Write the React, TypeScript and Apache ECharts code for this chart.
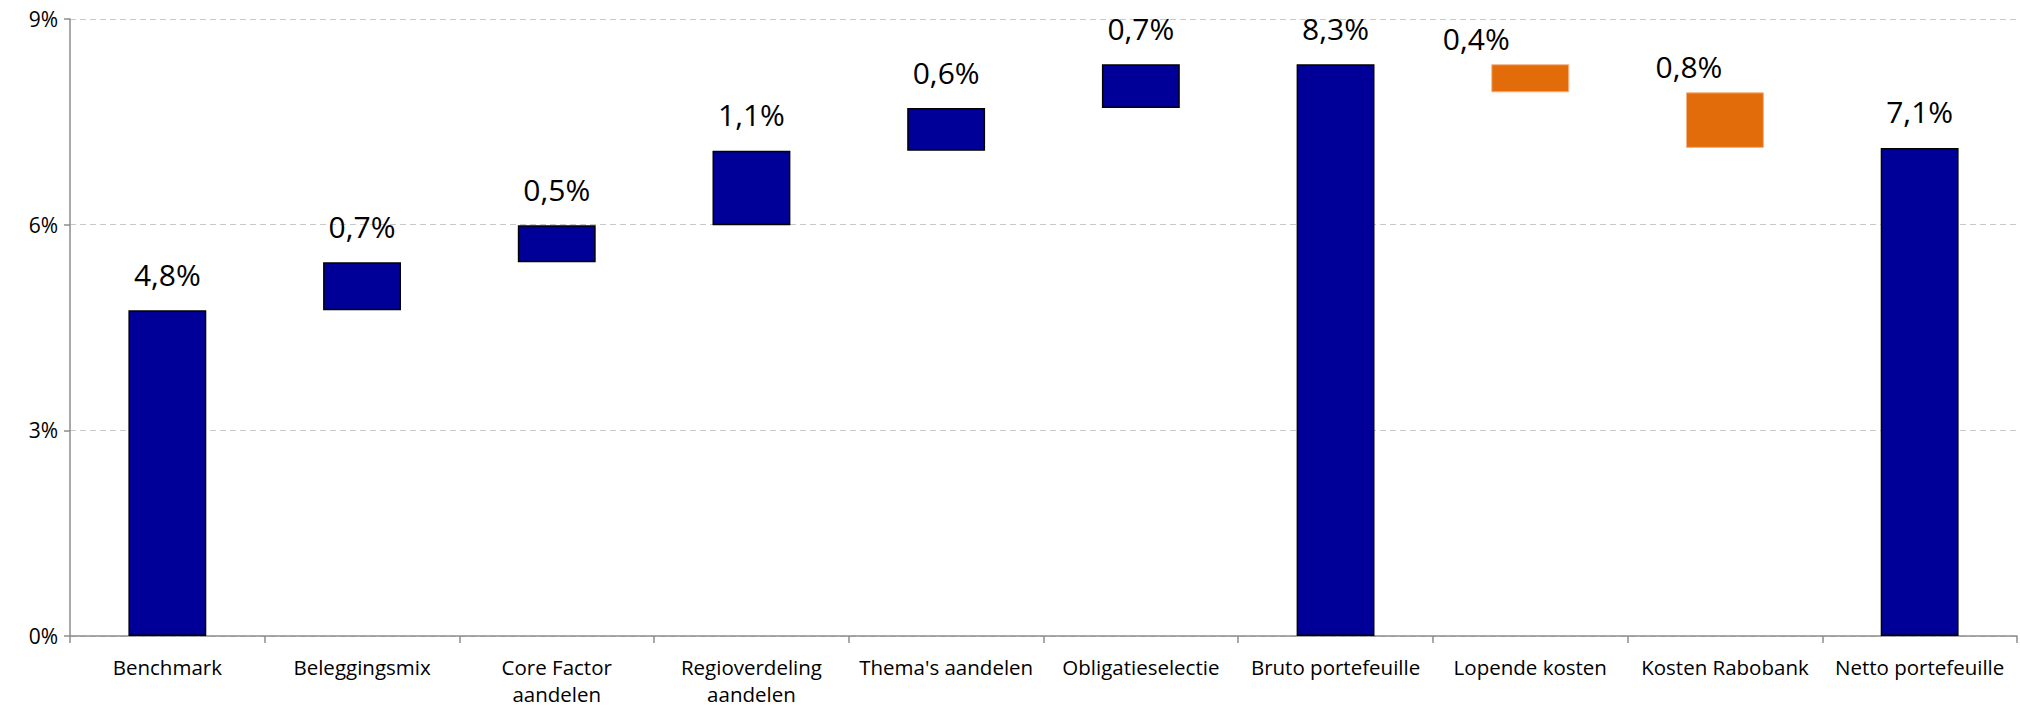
import React, { useEffect, useRef } from "react";
import * as echarts from "echarts";

const categories = [
  "Benchmark",
  "Beleggingsmix",
  "Core Factor\naandelen",
  "Regioverdeling\naandelen",
  "Thema's aandelen",
  "Obligatieselectie",
  "Bruto portefeuille",
  "Lopende kosten",
  "Kosten Rabobank",
  "Netto portefeuille",
];
// start and end level of each bar (in %)
const startValues = [0, 4.75, 5.45, 5.99, 7.08, 7.70, 0, 8.34, 7.93, 0];
const endValues = [4.75, 5.45, 5.99, 7.08, 7.70, 8.34, 8.34, 7.93, 7.12, 7.12];
const valueLabels = ["4,8%", "0,7%", "0,5%", "1,1%", "0,6%", "0,7%", "8,3%", "0,4%", "0,8%", "7,1%"];
const yTicks = [0, 3, 6, 9];

const BLUE = "#000099";
const ORANGE = "#E36C0A";
const FONT = "'Open Sans', sans-serif";

export default function App() {
  const ref = useRef<HTMLDivElement>(null);
  useEffect(() => {
    if (!ref.current) return;
    const chart = echarts.init(ref.current, undefined, { renderer: "svg" });
    const base = startValues.map((s, i) => Math.min(s, endValues[i]));
    const delta = startValues.map((s, i) => {
      const neg = endValues[i] < s;
      return {
        value: Math.abs(endValues[i] - s),
        itemStyle: neg
          ? { color: ORANGE, borderColor: "#F4B183", borderWidth: 1 }
          : { color: BLUE, borderColor: "#000000", borderWidth: 1.5 },
        label: neg ? { offset: [i === 7 ? -54 : -36, 10] } : {},
      };
    });
    chart.setOption({
      animation: false,
      grid: { left: 70, right: 3, top: 19, bottom: 72, containLabel: false },
      xAxis: {
        type: "category",
        data: categories,
        axisLine: { lineStyle: { color: "#8c8c8c", width: 1.5 } },
        axisTick: { show: true, length: 7, lineStyle: { color: "#8c8c8c", width: 1.5 } },
        axisLabel: {
          interval: 0,
          color: "#000",
          fontFamily: FONT,
          fontSize: 20.5,
          lineHeight: 27,
          margin: 17,
        },
      },
      yAxis: {
        type: "value",
        min: yTicks[0],
        max: yTicks[yTicks.length - 1],
        interval: 3,
        axisLine: { show: true, lineStyle: { color: "#8c8c8c", width: 1.5 } },
        axisTick: { show: true, length: 6, lineStyle: { color: "#8c8c8c", width: 1.5 } },
        axisLabel: {
          color: "#000",
          fontFamily: FONT,
          fontSize: 21,
          margin: 12,
          formatter: "{value}%",
        },
        splitLine: { lineStyle: { color: "#c8c8c8", type: [6, 4], width: 1 } },
      },
      series: [
        {
          type: "bar",
          stack: "w",
          data: base,
          itemStyle: { color: "transparent" },
          emphasis: { disabled: true },
          silent: true,
          barWidth: "40%",
        },
        {
          type: "bar",
          stack: "w",
          data: delta,
          barWidth: "40%",
          label: {
            show: true,
            position: "top",
            distance: 21,
            color: "#000",
            fontFamily: FONT,
            fontSize: 30,
            formatter: (p: any) => valueLabels[p.dataIndex],
          },
        },
      ],
    });
    return () => chart.dispose();
  }, []);
  return (
    <div
      ref={ref}
      style={{ position: "fixed", left: 0, top: 0, width: 2020, height: 708, background: "#fff" }}
    />
  );
}
